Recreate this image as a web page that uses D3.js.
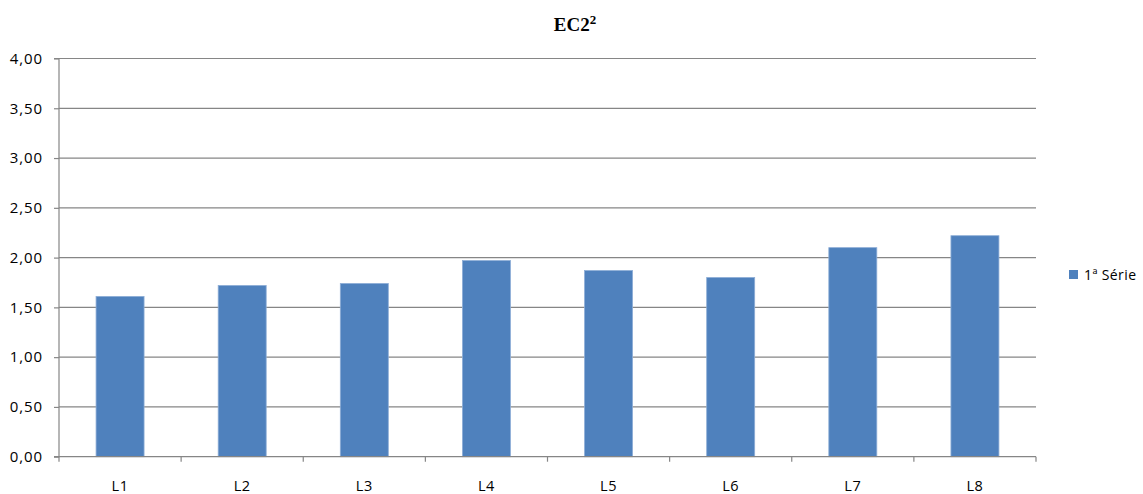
<!DOCTYPE html>
<html><head><meta charset="utf-8">
<script src="https://cdn.jsdelivr.net/npm/d3@7"></script>
<style>body{margin:0;background:#fff}</style>
</head><body>
<svg id="c" width="1143" height="494"></svg>
<script>
const categories = ["L1","L2","L3","L4","L5","L6","L7","L8"];
const values = [1.61, 1.72, 1.74, 1.97, 1.87, 1.80, 2.10, 2.22];
const yTicks = [0,0.5,1,1.5,2,2.5,3,3.5,4];
const seriesName = "1ª Série";

const svg = d3.select("#c");
const m = {l:59, r:1036, t:58.5, b:456.7};
const x = d3.scaleBand().domain(categories).range([m.l, m.r]).paddingInner(0.607).paddingOuter(0.3035);
const y = d3.scaleLinear().domain([0,4]).range([m.b, m.t]);
const fmt = v => d3.format(".2f")(v).replace(".", ",");
const font = "'Open Sans', 'Liberation Sans', sans-serif";

// gridlines
svg.append("g").selectAll("line").data(yTicks.filter(d=>d>0)).join("line")
  .attr("x1", m.l).attr("x2", m.r).attr("y1", d=>y(d)).attr("y2", d=>y(d))
  .attr("stroke", "#868686").attr("stroke-width", 1.2);

// bars
svg.append("g").selectAll("rect").data(values).join("rect")
  .attr("x", (d,i)=>x(categories[i])).attr("width", x.bandwidth())
  .attr("y", d=>y(d)).attr("height", d=>y(0)-y(d))
  .attr("fill", "#4F81BD").attr("stroke", "#8DADD6").attr("stroke-width", 0.8);

// y axis
const ya = svg.append("g").attr("transform", `translate(${m.l},0)`)
  .call(d3.axisLeft(y).tickValues(yTicks).tickFormat(fmt).tickSize(5).tickPadding(11));
ya.select(".domain").attr("stroke", "#868686").attr("stroke-width", 1.2).attr("d", `M-5,${m.t}H0V${m.b}H-5`);
ya.selectAll(".tick line").attr("stroke", "#868686").attr("stroke-width", 1.2);
ya.selectAll("text").attr("font-family", font).attr("font-size", 15).attr("letter-spacing", 0.9).attr("fill", "#000");

// x axis
const xa = svg.append("g").attr("transform", `translate(0,${m.b})`);
xa.append("line").attr("x1", m.l).attr("x2", m.r).attr("stroke", "#868686").attr("stroke-width", 1.2);
const bounds = d3.range(categories.length+1).map(i => m.l + i*(m.r-m.l)/categories.length);
xa.selectAll("line.tk").data(bounds).join("line").attr("class","tk")
  .attr("x1", d=>d).attr("x2", d=>d).attr("y1", 0).attr("y2", 5)
  .attr("stroke", "#868686").attr("stroke-width", 1.2);
xa.selectAll("text").data(categories).join("text")
  .attr("x", d=>x(d)+x.bandwidth()/2).attr("y", 34.5)
  .attr("text-anchor", "middle").attr("font-family", font).attr("font-size", 14.5).attr("letter-spacing", 0.6).attr("fill", "#000")
  .text(d=>d);

// title
const t = svg.append("text").attr("x", 575).attr("y", 31).attr("text-anchor", "middle")
  .attr("font-family", "'Liberation Serif','DejaVu Serif',serif").attr("font-weight", "bold").attr("font-size", 19);
t.append("tspan").text("EC2");
t.append("tspan").attr("dy", -7).attr("font-size", 13).text("2");

// legend
svg.append("rect").attr("x", 1069).attr("y", 270).attr("width", 9).attr("height", 9).attr("fill", "#4F81BD");
svg.append("text").attr("x", 1084).attr("y", 280).attr("font-family", font).attr("font-size", 14).attr("letter-spacing", 0.4).text(seriesName);
</script>
</body></html>
